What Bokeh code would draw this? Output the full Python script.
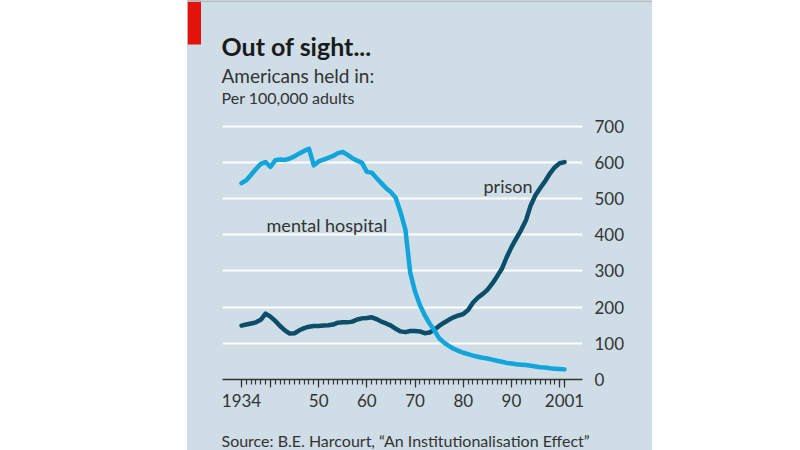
from bokeh.plotting import figure
from bokeh.models import Range1d, FixedTicker, Label, BoxAnnotation, Spacer
from bokeh.layouts import row, column
from bokeh.embed import file_html
from bokeh.resources import INLINE

# ---- data ----
years = list(range(1934, 2002))
mental_hospital = [
    543, 551, 566, 582, 596, 601, 588, 606, 608, 607,   # 1934-1943
    611, 617, 625, 632, 638, 592, 603, 608, 613, 618,   # 1944-1953
    626, 629, 621, 612, 605, 599, 574, 572, 557, 543,   # 1954-1963
    529, 518, 502, 462, 414, 295, 243, 206, 178, 155,   # 1964-1973
    136, 114, 102, 93, 85, 79, 74, 70, 66, 63,          # 1974-1983
    60, 58, 55, 52, 49, 46, 44, 42, 41, 40,             # 1984-1993
    38, 36, 34, 33, 31, 30, 29, 28,                     # 1994-2001
]
prison = [
    149, 152, 155, 158, 165, 182, 174, 162, 148, 136,   # 1934-1943
    127, 128, 136, 142, 146, 148, 148, 149, 150, 152,   # 1944-1953
    157, 158, 158, 160, 166, 169, 170, 172, 167, 160,   # 1954-1963
    155, 149, 140, 133, 131, 134, 134, 133, 128, 130,   # 1964-1973
    138, 148, 157, 165, 172, 177, 181, 192, 212, 226,   # 1974-1983
    236, 248, 265, 285, 306, 338, 366, 390, 413, 440,   # 1984-1993
    482, 510, 530, 549, 570, 587, 598, 601,             # 1994-2001
]
x_tick_values = [1934, 1940, 1950, 1960, 1970, 1980, 1990, 2000, 2001]
x_tick_labels = ["1934", "", "50", "60", "70", "80", "90", "", "2001"]
y_tick_values = [0, 100, 200, 300, 400, 500, 600, 700]

title_text = "Out of sight..."
subtitle_text = "Americans held in:"
unit_text = "Per 100,000 adults"
source_text = "Source: B.E. Harcourt, \u201cAn Institutionalisation Effect\u201d"

# ---- style ----
BG = "#cedde6"
DARK = "#0c4e6a"
LIGHT = "#12a5dc"
TXT = "#333333"
FONT = "Lato"
W = 465
TOP_H = 114
BOT_H = 30
MAIN_H = 450 - TOP_H - BOT_H
BG_STYLE = {"background-color": BG}


def no_align(f):
    try:
        f.frame_align = False
    except Exception:
        pass
    return f


def text_panel(height):
    f = figure(width=W, height=height, x_range=Range1d(0, W), y_range=Range1d(0, height),
               output_backend="svg", toolbar_location=None,
               min_border=0, x_axis_type=None, y_axis_type=None,
               background_fill_color=BG, border_fill_color=BG, outline_line_color=None,
               styles=BG_STYLE)
    f.xgrid.visible = False
    f.ygrid.visible = False
    return no_align(f)


# ---- header ----
top = text_panel(TOP_H)
top.add_layout(BoxAnnotation(left=0, right=13.5, bottom=TOP_H - 44, top=TOP_H,
                             fill_color="#e3120b", fill_alpha=1, line_color=None))
top.add_layout(BoxAnnotation(left=0, right=W, bottom=TOP_H - 1.4, top=TOP_H,
                             fill_color="#b4bcc2", fill_alpha=1, line_color=None))
top.add_layout(Label(x=34, y=TOP_H - 45, text=title_text, text_font=FONT,
                     text_font_style="bold", text_font_size="25px", text_color="#1a1a1a",
                     text_baseline="alphabetic"))
top.add_layout(Label(x=34, y=TOP_H - 75, text=subtitle_text, text_font=FONT,
                     text_font_size="19px", text_color=TXT, text_baseline="alphabetic"))
top.add_layout(Label(x=34, y=TOP_H - 96.5, text=unit_text, text_font=FONT,
                     text_font_size="16px", text_color=TXT, text_baseline="alphabetic"))

# ---- main chart ----
p = figure(width=W, height=MAIN_H,
           x_range=Range1d(1930.06, 2004.73), y_range=Range1d(0, 705),
           y_axis_location="right",
           output_backend="svg", toolbar_location=None,
           min_border_left=35, min_border_right=70,
           min_border_top=124 - TOP_H, min_border_bottom=450 - BOT_H - 379,
           background_fill_color=BG, border_fill_color=BG,
           outline_line_color=None, styles=BG_STYLE)
no_align(p)

xa = p.xaxis[0]
xa.ticker = FixedTicker(ticks=x_tick_values, minor_ticks=years)
xa.major_label_overrides = {v: t for v, t in zip(x_tick_values, x_tick_labels)}
xa.axis_line_color = TXT
xa.axis_line_width = 1.5
xa.major_tick_line_color = TXT
xa.major_tick_line_width = 1.2
xa.minor_tick_line_color = TXT
xa.minor_tick_line_width = 1.2
xa.major_tick_in = 0
xa.major_tick_out = 8
xa.minor_tick_in = 0
xa.minor_tick_out = 5
xa.major_label_standoff = 6
xa.major_label_text_font = FONT
xa.major_label_text_font_size = "17px"
xa.major_label_text_color = TXT

ya = p.yaxis[0]
ya.ticker = FixedTicker(ticks=y_tick_values)
ya.axis_line_color = None
ya.major_tick_line_color = None
ya.minor_tick_line_color = None
ya.major_label_standoff = 6
ya.major_label_text_font = FONT
ya.major_label_text_font_size = "17px"
ya.major_label_text_color = TXT

p.xgrid.grid_line_color = None
p.ygrid.grid_line_color = "white"
p.ygrid.grid_line_width = 2

p.line(years, prison, line_color=DARK, line_width=4.5, line_join="round", line_cap="round")
p.line(years, mental_hospital, line_color=LIGHT, line_width=4.5, line_join="round", line_cap="round")

p.add_layout(Label(x=1939.2, y=428, text="mental hospital", text_font=FONT,
                   text_font_size="18px", text_color=TXT, text_baseline="alphabetic"))
p.add_layout(Label(x=1984.2, y=534, text="prison", text_font=FONT,
                   text_font_size="18px", text_color=TXT, text_baseline="alphabetic"))

# ---- footer ----
bottom = text_panel(BOT_H)
bottom.add_layout(Label(x=34, y=10, text=source_text, text_font=FONT,
                        text_font_size="16px", text_color=TXT, text_baseline="alphabetic"))

layout = row(Spacer(width=187, height=450),
             column(top, p, bottom, styles=BG_STYLE))
open("out.html", "w").write(file_html(layout, INLINE))
